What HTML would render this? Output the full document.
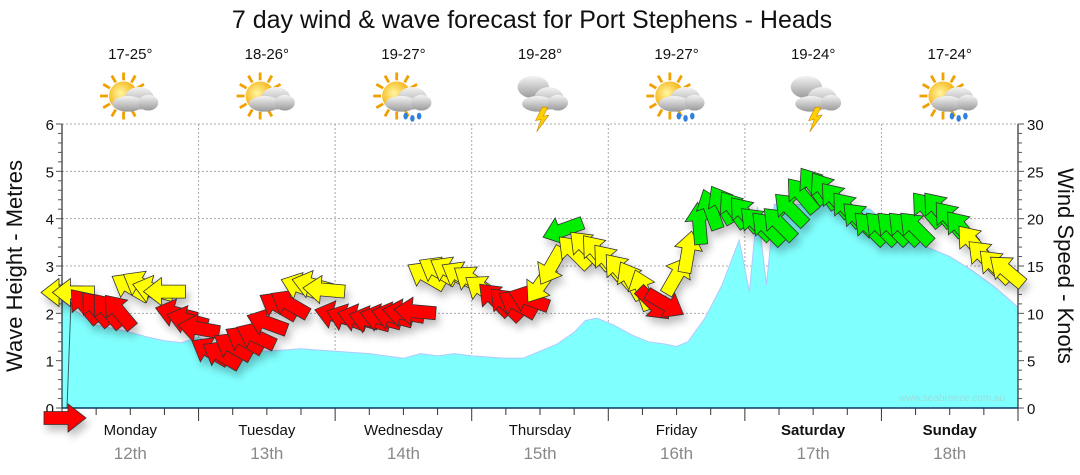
<!DOCTYPE html>
<html><head><meta charset="utf-8"><style>
body{margin:0;background:#fff;}
svg{display:block;font-family:"Liberation Sans",sans-serif;}
</style></head><body>
<svg id="chart" width="1080" height="475" viewBox="0 0 1080 475">
<defs>
<filter id="sh" x="-50%" y="-50%" width="200%" height="200%"><feGaussianBlur in="SourceAlpha" stdDeviation="4"/><feOffset dx="3" dy="6"/><feComponentTransfer><feFuncA type="linear" slope="0.25"/></feComponentTransfer><feMerge><feMergeNode/><feMergeNode in="SourceGraphic"/></feMerge></filter>
<radialGradient id="sun" cx="0.4" cy="0.4" r="0.6"><stop offset="0" stop-color="#fff7a0"/><stop offset="1" stop-color="#f5a800"/></radialGradient>
<linearGradient id="cloud" x1="0" y1="0" x2="0" y2="1"><stop offset="0" stop-color="#f4f4f4"/><stop offset="1" stop-color="#9a9a9a"/></linearGradient>
</defs>
<text x="532" y="28" font-size="25" text-anchor="middle" fill="#111">7 day wind &amp; wave forecast for Port Stephens - Heads</text>
<g id="grid"></g>
<g id="wave"></g>
<g id="axes"></g>
<g id="icons"></g>
<g id="arrows" filter="url(#sh)"></g>
<text x="952" y="401" font-size="10" text-anchor="middle" fill="#99dddd">www.seabreeze.com.au</text>
<text transform="translate(22,266) rotate(-90)" font-size="22" text-anchor="middle" fill="#111">Wave Height - Metres</text>
<text transform="translate(1058,266) rotate(90)" font-size="22" text-anchor="middle" fill="#111">Wind Speed - Knots</text>
</svg>
<script>
const days = ["Monday","Tuesday","Wednesday","Thursday","Friday","Saturday","Sunday"];
const dates = ["12th","13th","14th","15th","16th","17th","18th"];
const temps = ["17-25°","18-26°","19-27°","19-28°","19-27°","19-24°","17-24°"];
const icons = ["sun-cloud","sun-cloud","sun-rain","storm","sun-rain","storm","sun-rain"];
const waveHours = [0,3,6,9,12,15,18,21,24,27,30,36,42,48,54,60,63,66,69,72,78,81,84,87,90,92,94,97,100,103,106,108,110,113,116,119,120.8,122.2,123.8,125.2,136,138,142,144,148,152,156,160,164,168];
const waveHeights = [2.25,2.0,1.75,1.68,1.6,1.5,1.42,1.38,1.5,1.3,1.25,1.2,1.25,1.2,1.15,1.05,1.15,1.1,1.15,1.1,1.05,1.05,1.2,1.35,1.6,1.85,1.9,1.75,1.55,1.4,1.35,1.3,1.4,1.9,2.6,3.55,2.45,4.25,2.6,4.3,4.3,4.25,4.2,4.0,3.6,3.4,3.2,2.9,2.55,2.13];
const windHours = [0,2,4,6,8,10,12,14,16,18,20,22,24,26,28,30,32,34,36,38,40,42,44,46,48,50,52,54,56,58,60,62,64,66,68,70,72,74,76,78,80,82,84,86,88,90,92,94,96,98,100,102,104,106,108,110,112,114,116,118,120,122,124,126,128,130,132,134,136,138,140,142,144,146,148,150,152,154,156,158,160,162,164,166];
const windSpeeds = [12.2,12.2,10.8,10.5,10.3,10.2,12.8,13.0,12.5,12.3,10.0,9.3,8.4,6.0,5.6,6.5,7.2,7.6,9.0,10.8,11.0,12.8,13.0,12.5,9.8,9.5,9.5,9.3,9.5,9.7,10.0,10.2,14.0,14.5,14.5,14.0,13.5,12.5,11.5,11.0,11.0,11.5,13.0,15.0,18.8,16.5,17.0,16.5,15.5,14.5,13.5,12.5,11.0,11.0,14.0,16.5,19.5,21.0,21.5,21.0,20.5,19.5,19.0,19.5,21.0,22.5,23.5,23.0,22.0,21.0,20.0,19.0,19.0,19.0,19.0,19.0,21.0,21.0,20.0,19.0,17.5,16.0,15.0,14.5];
const windAngles = [180,180,130,130,130,130,150,150,165,180,165,165,170,150,150,150,150,155,160,150,150,160,165,175,165,160,165,165,165,165,170,175,150,150,150,150,145,145,135,135,150,160,235,240,200,135,135,130,130,130,120,110,315,330,60,80,95,110,120,125,130,135,135,135,135,130,125,125,130,130,135,135,135,135,135,135,130,130,130,130,130,135,135,140];
const windColors = ["y","y","r","r","r","r","y","y","y","y","r","r","r","r","r","r","r","r","r","r","r","y","y","y","r","r","r","r","r","r","r","r","y","y","y","y","y","y","r","r","r","r","y","y","g","y","y","y","y","y","y","y","r","r","y","y","g","g","g","g","g","g","g","g","g","g","g","g","g","g","g","g","g","g","g","g","g","g","g","g","y","y","y","y"];

const NS="http://www.w3.org/2000/svg";
const X0=62,X1=1018,Y0=408,Y1=124;
const xOf=h=>X0+h*(X1-X0)/168;
const yWave=m=>Y0-m*(Y0-Y1)/6;
const yWind=k=>Y0-k*(Y0-Y1)/30;
function mk(tag,attrs,parent){const e=document.createElementNS(NS,tag);for(const k in attrs)e.setAttribute(k,attrs[k]);parent.appendChild(e);return e;}
const grid=document.getElementById('grid'),axes=document.getElementById('axes'),wave=document.getElementById('wave'),arrowsG=document.getElementById('arrows'),iconsG=document.getElementById('icons');
for(let m=1;m<=6;m++){const l=mk('line',{x1:X0,x2:X1,y1:yWave(m),y2:yWave(m),stroke:'#aaa','stroke-dasharray':'2,2'},grid);

}
for(let d=1;d<7;d++){const l=mk('line',{x1:xOf(d*24),x2:xOf(d*24),y1:Y1,y2:Y0,stroke:'#aaa','stroke-dasharray':'2,2'},grid);

}
let d='M'+xOf(waveHours[0])+','+Y0;
waveHours.forEach((h,i)=>{d+=' L'+xOf(h).toFixed(1)+','+yWave(waveHeights[i]).toFixed(1);});
d+=' L'+xOf(168)+','+Y0+' Z';
const area=mk('path',{d:d,fill:'#80ffff',stroke:'#b0c8ff','stroke-width':1},wave);


const fl=mk('line',{x1:67,y1:408,x2:71,y2:302,stroke:'#336666','stroke-width':1},wave);


mk('line',{x1:X0,x2:X0,y1:Y1,y2:Y0,stroke:'#000'},axes);
mk('line',{x1:X1,x2:X1,y1:Y1,y2:Y0,stroke:'#000'},axes);
mk('line',{x1:X0,x2:X1,y1:Y0,y2:Y0,stroke:'#0a3a6a','stroke-width':1.5},axes);
for(let i=0;i<=30;i++){const m=i/5,y=yWave(m),maj=i%5===0;mk('line',{x1:X0-(maj?6:4),x2:X0,y1:y,y2:y,stroke:'#555'},axes);
if(maj){const t=mk('text',{x:X0-8,y:y+6,'font-size':15,'text-anchor':'end',fill:'#111'},axes);t.textContent=m;

}}
for(let k=0;k<=30;k++){const y=yWind(k),maj=k%5===0;mk('line',{x1:X1,x2:X1+(maj?6:4),y1:y,y2:y,stroke:'#555'},axes);
if(maj){const t=mk('text',{x:X1+9,y:y+6,'font-size':15,'text-anchor':'start',fill:'#111'},axes);t.textContent=k;

}}
for(let h=0;h<=168;h+=6){const x=xOf(h),maj=h%24===0;mk('line',{x1:x,x2:x,y1:Y0,y2:Y0+(maj?13:7),stroke:'#333'},axes);}
days.forEach((dn,i)=>{const cx=xOf(i*24+12);const bold=i>=5;
const t=mk('text',{x:cx,y:435,'font-size':15,'text-anchor':'middle',fill:'#111','font-weight':bold?'bold':'normal'},axes);t.textContent=dn;


const t2=mk('text',{x:cx,y:459,'font-size':17,'text-anchor':'middle',fill:'#888'},axes);t2.textContent=dates[i];


const t3=mk('text',{x:cx,y:59,'font-size':15,'text-anchor':'middle',fill:'#111'},iconsG);t3.textContent=temps[i];


const g=mk('g',{transform:'translate('+cx+',96) scale(1.12)'},iconsG);


const ty=icons[i];
if(ty!=='storm'){for(let r=0;r<12;r++){const a=r*Math.PI/6;mk('line',{x1:-6+Math.cos(a)*14,y1:Math.sin(a)*14,x2:-6+Math.cos(a)*21,y2:Math.sin(a)*21,stroke:'#f0a000','stroke-width':2.5},g);}
mk('circle',{cx:-6,cy:0,r:13,fill:'url(#sun)'},g);}
if(ty==='storm'){mk('ellipse',{cx:-6,cy:-8,rx:14,ry:10,fill:'url(#cloud)'},g);}
mk('ellipse',{cx:8,cy:2,rx:13,ry:10,fill:'url(#cloud)'},g);
mk('ellipse',{cx:-2,cy:7,rx:14,ry:7,fill:'url(#cloud)'},g);
mk('ellipse',{cx:16,cy:6,rx:9,ry:7,fill:'url(#cloud)'},g);
if(ty==='sun-rain'){[[2,18],[8,20],[14,18]].forEach(p=>mk('ellipse',{cx:p[0],cy:p[1],rx:2,ry:3,fill:'#3080e0'},g));}
if(ty==='storm'){mk('path',{d:'M2,10 L-4,22 L1,21 L-3,32 L8,17 L3,18 L7,10Z',fill:'#ffd000',stroke:'#c08000','stroke-width':0.5},g);}
});
const colMap={r:'#ff0000',y:'#ffff00',g:'#00ee00'};
const arrowPath='M-21,-6.5 L3,-6.5 L3,-14 L21,0 L3,14 L3,6.5 L-21,6.5 Z';
windHours.forEach((h,i)=>{const p=mk('path',{d:arrowPath,fill:colMap[windColors[i]],stroke:'#333','stroke-width':0.8,
transform:'translate('+xOf(h).toFixed(1)+','+yWind(windSpeeds[i]).toFixed(1)+') rotate('+(-windAngles[i])+')'},arrowsG);

});
const ba=mk('path',{d:arrowPath,fill:'#ff0000',stroke:'#333','stroke-width':0.8,transform:'translate(65,418)'},arrowsG);


</script>
</body></html>
